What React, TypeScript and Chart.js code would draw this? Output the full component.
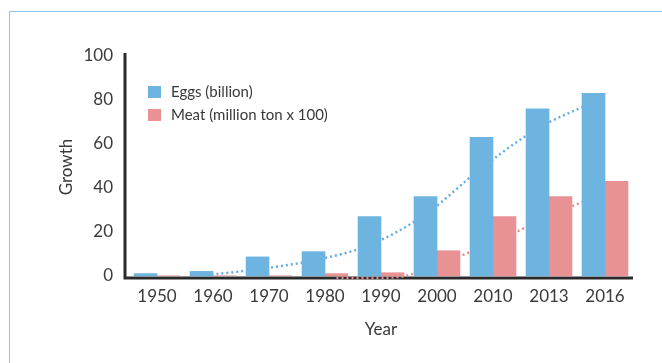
import React, { useEffect, useRef } from "react";
import { Chart, registerables } from "chart.js";

Chart.register(...registerables);

// ---- data ----
const years = ["1950", "1960", "1970", "1980", "1990", "2000", "2010", "2013", "2016"];
const eggs = [1, 2, 8.6, 11, 27, 36, 63, 76, 83];
const meat = [0, 0, 0, 1, 1.4, 11.4, 27, 36, 43];
const eggTrend: (number | null)[] = [null, 0, 3, 7, 14, 28, 49, 67, 79];
const meatTrend: (number | null)[] = [null, null, null, -1, -0.8, 7, 17.5, 29.5, 39.5];
const yTicks = [0, 20, 40, 60, 80, 100];
const seriesLabels = ["Eggs (billion)", "Meat (million ton x 100)"];
const axisTitles = { x: "Year", y: "Growth" };

const EGG = "#6db4e0";
const MEAT = "#e99296";
const EGG_DOT = "#66ade0";
const MEAT_DOT = "#e78c91";
const TEXT = "#3a3a3a";
const FONT = "Lato, 'DejaVu Sans', sans-serif";
const CAT_PCT = 0.82;
const SHIFT = CAT_PCT / 4; // half a bar, in category units

const toPoints = (arr: (number | null)[], shift: number) =>
  arr
    .map((v, i) => (v == null ? null : { x: i + shift, y: v }))
    .filter((p) => p !== null) as { x: number; y: number }[];

const axisLinesPlugin = {
  id: "axisLines",
  beforeDatasetsDraw(chart: any) {
    const { ctx, chartArea, scales } = chart;
    const y = scales.y;
    ctx.save();
    ctx.strokeStyle = "#2a2a2a";
    ctx.lineWidth = 3;
    ctx.beginPath();
    const x0 = chartArea.left - 4;
    const yb = chartArea.bottom;
    ctx.moveTo(x0, y.getPixelForValue(yTicks[yTicks.length - 1]) - 3);
    ctx.lineTo(x0, yb);
    ctx.lineTo(chartArea.right, yb);
    ctx.stroke();
    ctx.restore();
  },
};

const legendPlugin = {
  id: "innerLegend",
  afterDatasetsDraw(chart: any) {
    const { ctx, chartArea } = chart;
    const colors = [EGG, MEAT];
    ctx.save();
    ctx.font = `15px ${FONT}`;
    ctx.textBaseline = "middle";
    ctx.textAlign = "left";
    seriesLabels.forEach((label, i) => {
      const bx = chartArea.left + 19;
      const by = chartArea.top + 30 + i * 23;
      ctx.fillStyle = colors[i];
      ctx.fillRect(bx, by, 13, 12);
      ctx.fillStyle = TEXT;
      ctx.fillText(label, bx + 23, by + 6);
    });
    ctx.restore();
  },
};

export default function App() {
  const ref = useRef<HTMLCanvasElement | null>(null);

  useEffect(() => {
    if (!ref.current) return;
    const barCommon = {
      type: "bar",
      grouped: false,
      barPercentage: 1,
      categoryPercentage: 1,
      order: 1,
    };
    const lineCommon = {
      type: "line",
      borderWidth: 2.5,
      borderDash: [2, 3],
      pointRadius: 0,
      cubicInterpolationMode: "monotone",
      fill: false,
      clip: false,
      order: 2,
    };
    const chart = new Chart(ref.current, {
      type: "bar",
      data: {
        datasets: [
          { ...barCommon, label: seriesLabels[0], data: toPoints(eggs, -SHIFT), backgroundColor: EGG },
          { ...barCommon, label: seriesLabels[1], data: toPoints(meat, SHIFT), backgroundColor: MEAT },
          { ...lineCommon, label: "Eggs trend", data: toPoints(eggTrend, -SHIFT), borderColor: EGG_DOT },
          { ...lineCommon, label: "Meat trend", data: toPoints(meatTrend, SHIFT), borderColor: MEAT_DOT },
        ] as any,
      },
      options: {
        responsive: false,
        animation: false,
        devicePixelRatio: 1,
        layout: { padding: { left: 52, right: 29, top: 56, bottom: 19 } },
        plugins: {
          legend: { display: false },
          tooltip: { enabled: false },
        },
        scales: {
          x: {
            type: "linear",
            offset: false,
            min: -0.5,
            max: years.length - 0.5,
            grid: { display: false, drawTicks: false, tickLength: 0, offset: false },
            border: { display: false },
            afterBuildTicks: (s: any) => {
              s.ticks = years.map((_, i) => ({ value: i }));
            },
            ticks: {
              color: TEXT,
              font: { family: FONT, size: 17 },
              padding: 8,
              maxRotation: 0,
              autoSkip: false,
              callback: (v: any) => years[Math.round(Number(v))] ?? "",
            },
            title: {
              display: true,
              text: axisTitles.x,
              color: TEXT,
              font: { family: FONT, size: 17 },
              padding: { top: 4, bottom: 4 },
            },
            afterFit: (s: any) => {
              s.height = 66;
            },
          },
          y: {
            type: "linear",
            min: -1,
            max: 100,
            stacked: false,
            grid: { display: false, drawTicks: false, tickLength: 0 },
            border: { display: false },
            ticks: { color: TEXT, font: { family: FONT, size: 17 }, padding: 16 },
            afterBuildTicks: (s: any) => {
              s.ticks = yTicks.map((v) => ({ value: v }));
            },
            title: {
              display: true,
              text: axisTitles.y,
              color: TEXT,
              font: { family: FONT, size: 17 },
              padding: { top: 4, bottom: 4 },
            },
            afterFit: (s: any) => {
              s.width = 77;
            },
          },
        },
      } as any,
      plugins: [axisLinesPlugin, legendPlugin],
    });
    return () => chart.destroy();
  }, []);

  return (
    <>
      <div
        style={{
          position: "fixed",
          left: 9,
          top: 11,
          width: 720,
          height: 420,
          borderTop: "1.5px solid #8ec4ea",
          borderLeft: "1.5px solid #8ec4ea",
          boxSizing: "border-box",
        }}
      />
      <canvas
        ref={ref}
        width={662}
        height={363}
        style={{ position: "fixed", left: 0, top: 0, width: 662, height: 363 }}
      />
    </>
  );
}
